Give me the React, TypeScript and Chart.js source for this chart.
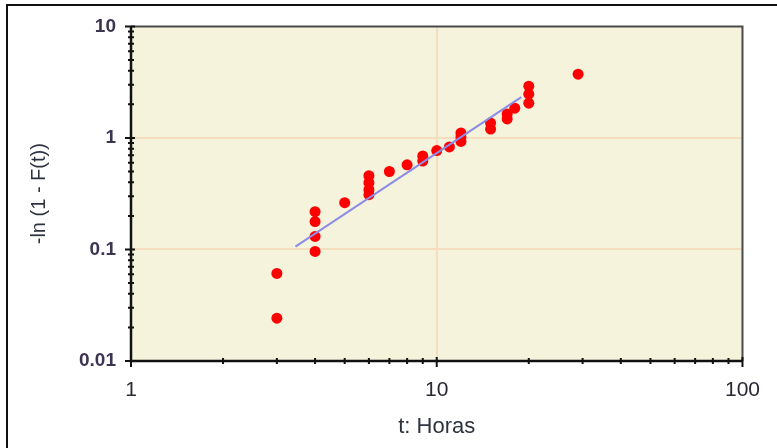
import React, { useEffect, useRef } from "react";
import { Chart, registerables } from "chart.js";

Chart.register(...registerables);

// Observed data: t (hours) and -ln(1 - F(t))
const tHours = [3, 3, 4, 4, 4, 4, 5, 6, 6, 6, 6, 7, 8, 9, 9, 10, 11, 12, 12, 12, 15, 15, 17, 17, 18, 20, 20, 20, 29];
const lnValues = [0.061, 0.0242, 0.218, 0.178, 0.131, 0.096, 0.263, 0.458, 0.397, 0.343, 0.31, 0.5, 0.574, 0.69, 0.62, 0.77, 0.83, 1.11, 1.02, 0.93, 1.36, 1.2, 1.64, 1.48, 1.85, 2.91, 2.47, 2.05, 3.73];

// Fitted line endpoints
const fitT = [3.45, 18.9];
const fitY = [0.106, 2.32];

const xDecades = [1, 10, 100];
const yDecades = [0.01, 0.1, 1, 10];

const minorBetween = (decades: number[]) => {
  const out: number[] = [];
  for (let i = 0; i < decades.length - 1; i++) {
    for (let k = 2; k <= 9; k++) out.push(decades[i] * k);
  }
  return out;
};

const FONT = "Liberation Sans, Arial, sans-serif";

const framePlugin = {
  id: "framePlugin",
  beforeDraw(chart: any) {
    const { ctx, chartArea: a } = chart;
    ctx.save();
    ctx.fillStyle = "#F5F3DC";
    ctx.fillRect(a.left, a.top, a.right - a.left, a.bottom - a.top);
    ctx.restore();
  },
  afterDraw(chart: any) {
    const { ctx, chartArea: a, scales } = chart;
    ctx.save();
    ctx.strokeStyle = "#4a4a4a";
    ctx.lineWidth = 2;
    ctx.beginPath();
    ctx.moveTo(a.left, a.top);
    ctx.lineTo(a.right, a.top);
    ctx.lineTo(a.right, a.bottom);
    ctx.stroke();
    ctx.strokeStyle = "#111";
    ctx.lineWidth = 2.5;
    ctx.beginPath();
    ctx.moveTo(a.left, a.top);
    ctx.lineTo(a.left, a.bottom);
    ctx.lineTo(a.right, a.bottom);
    ctx.stroke();
    ctx.lineWidth = 2;
    const xs = scales.x, ys = scales.y;
    ctx.beginPath();
    yDecades.forEach((v) => {
      const p = ys.getPixelForValue(v);
      ctx.moveTo(a.left - 6, p);
      ctx.lineTo(a.left + 4, p);
    });
    minorBetween(yDecades).forEach((v) => {
      const p = ys.getPixelForValue(v);
      ctx.moveTo(a.left - 3, p);
      ctx.lineTo(a.left + 3, p);
    });
    xDecades.forEach((v) => {
      const p = xs.getPixelForValue(v);
      ctx.moveTo(p, a.bottom - 4);
      ctx.lineTo(p, a.bottom + 6);
    });
    minorBetween(xDecades).forEach((v) => {
      const p = xs.getPixelForValue(v);
      ctx.moveTo(p, a.bottom - 3);
      ctx.lineTo(p, a.bottom + 3);
    });
    ctx.stroke();
    ctx.restore();
  },
};

export default function App() {
  const ref = useRef<HTMLCanvasElement | null>(null);
  useEffect(() => {
    if (!ref.current) return;
    const isDecade = (v: number) => Math.abs(Math.log10(v) - Math.round(Math.log10(v))) < 1e-6;
    const chart = new Chart(ref.current, {
      type: "scatter",
      data: {
        datasets: [
          {
            type: "line",
            label: "Ajuste",
            data: fitT.map((t, i) => ({ x: t, y: fitY[i] })),
            borderColor: "#8C8CE6",
            borderWidth: 2,
            pointRadius: 0,
            fill: false,
          },
          {
            label: "Datos",
            data: tHours.map((t, i) => ({ x: t, y: lnValues[i] })),
            backgroundColor: "#FF0000",
            borderColor: "#FF0000",
            pointRadius: 5.5,
            pointBorderWidth: 0,
          },
        ],
      },
      options: {
        responsive: false,
        animation: false,
        plugins: { legend: { display: false }, tooltip: { enabled: false } },
        layout: { padding: { top: 25, right: 33, left: 0, bottom: 0 } },
        scales: {
          x: {
            type: "logarithmic",
            min: 1,
            max: 100,
            afterBuildTicks: (s: any) => {
              s.ticks = xDecades.map((v) => ({ value: v, major: true }));
            },
            afterFit: (s: any) => {
              s.height = 87;
            },
            grid: {
              drawTicks: false,
              lineWidth: 2,
              color: (c: any) => (c.tick && c.tick.value > 1 && c.tick.value < 100 ? "#F5DEC0" : "rgba(0,0,0,0)"),
            },
            border: { display: false },
            ticks: {
              padding: 17,
              color: "#2a2833",
              font: { family: FONT, size: 21 },
              callback: (v: any) => (isDecade(Number(v)) ? String(Number(v)) : ""),
              maxRotation: 0,
            },
            title: {
              display: true,
              text: "t: Horas",
              color: "#2f3340",
              font: { family: FONT, size: 22 },
              padding: { top: 0, bottom: 8 },
            },
          },
          y: {
            type: "logarithmic",
            min: 0.01,
            max: 10,
            afterBuildTicks: (s: any) => {
              s.ticks = yDecades.map((v) => ({ value: v, major: true }));
            },
            afterFit: (s: any) => {
              s.width = 131;
            },
            grid: {
              drawTicks: false,
              lineWidth: 2,
              color: (c: any) => (c.tick && c.tick.value > 0.01 && c.tick.value < 10 ? "#F5DEC0" : "rgba(0,0,0,0)"),
            },
            border: { display: false },
            ticks: {
              padding: 15,
              color: "#3d3452",
              font: { family: FONT, size: 19, weight: "bold" },
              callback: (v: any) => {
                const n = Number(v);
                if (!isDecade(n)) return "";
                return n >= 1 ? String(n) : n.toFixed(Math.round(-Math.log10(n)));
              },
            },
            title: {
              display: true,
              text: "-ln (1 - F(t))",
              color: "#2f3340",
              font: { family: FONT, size: 20 },
              padding: { top: 27, bottom: 0 },
            },
          },
        },
      },
      plugins: [framePlugin],
    });
    return () => chart.destroy();
  }, []);

  return (
    <div style={{ position: "absolute", left: 0, top: 0, width: 777, height: 448, background: "#fff", overflow: "hidden" }}>
      <div
        style={{
          position: "absolute",
          left: 6,
          top: 4,
          width: 800,
          height: 500,
          borderLeft: "2px solid #111",
          borderTop: "2px solid #111",
        }}
      />
      <canvas ref={ref} width={777} height={448} style={{ position: "absolute", left: 0, top: 0 }} />
    </div>
  );
}
